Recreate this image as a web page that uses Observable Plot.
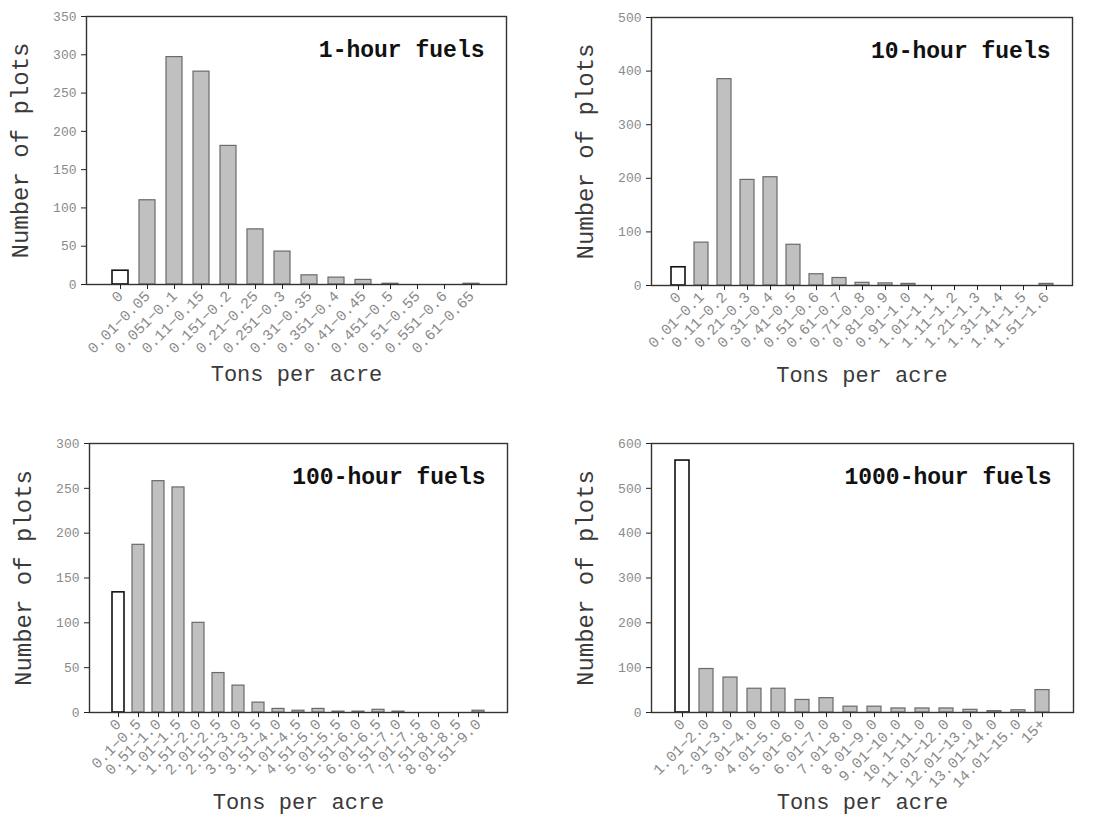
<!DOCTYPE html>
<html>
<head>
<meta charset="utf-8">
<script src="https://cdn.jsdelivr.net/npm/d3@7"></script>
<script src="https://cdn.jsdelivr.net/npm/@observablehq/plot@0.6"></script>
<style>
  html, body { margin: 0; padding: 0; background: #fff; }
  #wrap { position: relative; width: 1112px; height: 820px; background: #fff; }
  .panel { position: absolute; width: 556px; height: 410px; }
  .panel svg { display: block; overflow: visible; }
</style>
</head>
<body>
<div id="wrap">
  <div class="panel" id="p1" style="left:0;top:0"></div>
  <div class="panel" id="p2" style="left:556px;top:0"></div>
  <div class="panel" id="p3" style="left:0;top:410px"></div>
  <div class="panel" id="p4" style="left:556px;top:410px"></div>
</div>
<script>
// ---- Data ----
const title1 = "1-hour fuels";
const cats1 = ["0","0.01−0.05","0.051−0.1","0.11−0.15","0.151−0.2","0.21−0.25","0.251−0.3","0.31−0.35","0.351−0.4","0.41−0.45","0.451−0.5","0.51−0.55","0.551−0.6","0.61−0.65"];
const vals1 = [18, 110, 297, 278, 181, 72, 43, 12, 9, 6, 1, 0, 0, 1];
const yTicks1 = [0, 50, 100, 150, 200, 250, 300, 350];

const title2 = "10-hour fuels";
const cats2 = ["0","0.01−0.1","0.11−0.2","0.21−0.3","0.31−0.4","0.41−0.5","0.51−0.6","0.61−0.7","0.71−0.8","0.81−0.9","0.91−1.0","1.01−1.1","1.11−1.2","1.21−1.3","1.31−1.4","1.41−1.5","1.51−1.6"];
const vals2 = [34, 80, 385, 197, 202, 76, 21, 14, 5, 4, 3, 0, 0, 0, 0, 0, 3];
const yTicks2 = [0, 100, 200, 300, 400, 500];

const title3 = "100-hour fuels";
const cats3 = ["0","0.1−0.5","0.51−1.0","1.01−1.5","1.51−2.0","2.01−2.5","2.51−3.0","3.01−3.5","3.51−4.0","1.01−4.5","4.51−5.0","5.01−5.5","5.51−6.0","6.01−6.5","6.51−7.0","7.01−7.5","7.51−8.0","8.01−8.5","8.51−9.0"];
const vals3 = [134, 187, 258, 251, 100, 44, 30, 11, 4, 2, 4, 1, 1, 3, 1, 0, 0, 0, 2];
const yTicks3 = [0, 50, 100, 150, 200, 250, 300];

const title4 = "1000-hour fuels";
const cats4 = ["0","1.01−2.0","2.01−3.0","3.01−4.0","4.01−5.0","5.01−6.0","6.01−7.0","7.01−8.0","8.01−9.0","9.01−10.0","10.1−11.0","11.01−12.0","12.01−13.0","13.01−14.0","14.01−15.0","15+"];
const vals4 = [562, 97, 78, 53, 53, 28, 32, 13, 13, 9, 9, 9, 6, 3, 5, 50];
const yTicks4 = [0, 100, 200, 300, 400, 500, 600];

const xTitle = "Tons per acre";
const yTitle = "Number of plots";

// ---- Drawing ----
const FONT = "'Liberation Mono', 'DejaVu Sans Mono', monospace";

function panel(el, title, cats, vals, yTicks, m) {
  const rows = cats.map((c, i) => ({cat: c, val: vals[i]}));
  const ymax = yTicks[yTicks.length - 1];
  const chart = Plot.plot({
    width: 556, height: 410,
    marginLeft: m.l, marginRight: m.r, marginTop: m.t, marginBottom: m.b,
    style: {fontFamily: FONT, background: "transparent", overflow: "visible"},
    x: {domain: cats, paddingInner: 0.4, paddingOuter: 0.72, label: null},
    y: {domain: [0, ymax], label: null},
    marks: [
      Plot.barY(rows, {
        filter: d => d.val > 0,
        x: "cat", y: "val",
        fill: d => d.cat === "0" ? "#ffffff" : "#c0c0c0",
        stroke: d => d.cat === "0" ? "#111" : "#6a6a6a",
        strokeWidth: d => d.cat === "0" ? 1.6 : 1.2
      }),
      Plot.frame({stroke: "#333", strokeWidth: 1.4}),
      Plot.axisY({ticks: yTicks, tickSize: 5, tickPadding: 5, fontSize: 13, fill: "#8a8a8a", stroke: "#222", label: null, tickFormat: d => String(d)}),
      Plot.axisX({tickRotate: -45, tickSize: 5, tickPadding: 4, fontSize: 15, fill: "#8a8a8a", stroke: "#222", label: null}),
      Plot.text([title], {frameAnchor: "top-right", textAnchor: "end", lineAnchor: "middle", dx: -22, dy: 33, fontSize: 23, fontWeight: "bold", fill: "#111"}),
      Plot.text([xTitle], {frameAnchor: "bottom", textAnchor: "middle", lineAnchor: "middle", dy: 89, fontSize: 22, fill: "#3a3a3a"}),
      Plot.text([yTitle], {frameAnchor: "left", textAnchor: "middle", lineAnchor: "middle", rotate: -90, dx: -66, fontSize: 24, fill: "#3a3a3a"})
    ]
  });
  document.getElementById(el).appendChild(chart);
}

panel("p1", title1, cats1, vals1, yTicks1, {l: 86, r: 50, t: 16, b: 126});
panel("p2", title2, cats2, vals2, yTicks2, {l: 95, r: 40, t: 17, b: 125});
panel("p3", title3, cats3, vals3, yTicks3, {l: 89, r: 49, t: 33, b: 108});
panel("p4", title4, cats4, vals4, yTicks4, {l: 95, r: 39, t: 33, b: 108});
</script>
</body>
</html>
